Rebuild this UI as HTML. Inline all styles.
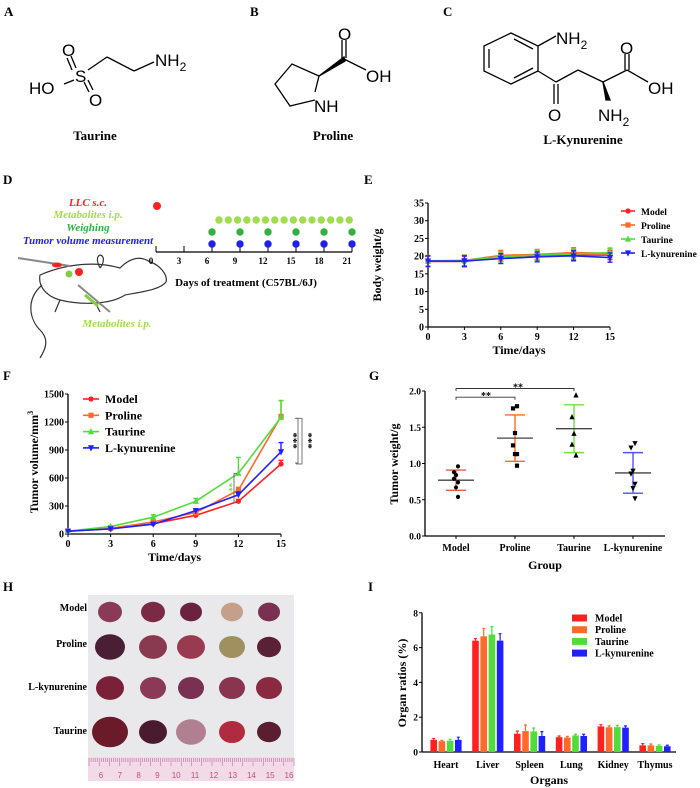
<!DOCTYPE html>
<html><head><meta charset="utf-8">
<style>
html,body{margin:0;padding:0;background:#fff;}
svg{display:block;font-family:"Liberation Serif",serif;}
.b{font-weight:bold;}
.sans{font-family:"Liberation Sans",sans-serif;}
</style></head>
<body>
<svg id="fig" width="700" height="788" viewBox="0 0 700 788">
<!-- Panel labels -->
<g class="b" font-size="13">
<text x="4" y="16">A</text>
<text x="250" y="16">B</text>
<text x="443" y="16">C</text>
<text x="3" y="184">D</text>
<text x="364" y="184">E</text>
<text x="3" y="380">F</text>
<text x="369" y="380">G</text>
<text x="3" y="591">H</text>
<text x="368" y="591">I</text>
</g>

<!-- A Taurine -->
<g stroke="#000" stroke-width="1.3" fill="none">
<line x1="71" y1="56" x2="76" y2="68"/><line x1="67" y1="58" x2="72" y2="70"/>
<line x1="84" y1="82" x2="89" y2="92"/><line x1="88" y1="80" x2="93" y2="90"/>
<line x1="64" y1="84" x2="74" y2="80"/>
<line x1="88" y1="70" x2="107" y2="57"/><line x1="107" y1="57" x2="134" y2="71"/><line x1="134" y1="71" x2="154" y2="62"/>
</g>
<g class="sans" font-size="17">
<text x="62" y="56">O</text><text x="75" y="82">S</text><text x="29" y="94">HO</text><text x="89" y="106">O</text>
<text x="155" y="66">NH<tspan font-size="12" dy="5">2</tspan></text>
</g>
<text x="95" y="140" class="b" font-size="13" text-anchor="middle">Taurine</text>

<!-- B Proline -->
<g stroke="#000" stroke-width="1.3" fill="none">
<polyline points="315,100 290,106 275,84 292,64 319,76 315,92"/>
<polygon points="319,76 344,57 345,61" fill="#000"/>
<line x1="344" y1="59" x2="366" y2="70"/>
<line x1="342" y1="58" x2="342" y2="40"/><line x1="346" y1="58" x2="346" y2="40"/>
</g>
<g class="sans" font-size="17">
<text x="338" y="40">O</text><text x="366" y="82">OH</text><text x="314" y="112">NH</text>
</g>
<text x="333" y="140" class="b" font-size="13" text-anchor="middle">Proline</text>

<!-- C Kynurenine -->
<g stroke="#000" stroke-width="1.3" fill="none">
<polygon points="511,33 538,46 538,71 511,84 484,71 484,46"/>
<line x1="514" y1="39" x2="533" y2="49"/><line x1="533" y1="68" x2="514" y2="78"/><line x1="489" y1="49" x2="489" y2="68"/>
<line x1="538" y1="46" x2="556" y2="36"/>
<line x1="538" y1="71" x2="556" y2="82"/><line x1="556" y1="82" x2="578" y2="70"/><line x1="578" y1="70" x2="603" y2="82"/>
<line x1="554" y1="84" x2="554" y2="104"/><line x1="558" y1="84" x2="558" y2="104"/>
<polygon points="603,82 606,100 610,100" fill="#000"/>
<line x1="603" y1="82" x2="627" y2="70"/><line x1="627" y1="70" x2="648" y2="82"/>
<line x1="625" y1="70" x2="625" y2="54"/><line x1="629" y1="70" x2="629" y2="54"/>
</g>
<g class="sans" font-size="17">
<text x="556" y="44">NH<tspan font-size="12" dy="5">2</tspan></text>
<text x="620" y="54">O</text><text x="648" y="94">OH</text><text x="548" y="121">O</text>
<text x="598" y="121">NH<tspan font-size="12" dy="5">2</tspan></text>
</g>
<text x="583" y="144" class="b" font-size="13" text-anchor="middle">L-Kynurenine</text>

<!-- D schedule -->
<g font-style="italic" class="b" font-size="11" text-anchor="middle">
<text x="88" y="206" fill="#ff2020">LLC s.c.</text>
<text x="88" y="218" fill="#a0dc50">Metabolites i.p.</text>
<text x="88" y="231" fill="#30b040">Weighing</text>
<text x="88" y="244" fill="#2020ee">Tumor volume measurement</text>
<text x="117" y="327" fill="#a0dc50">Metabolites i.p.</text>
</g>
<g fill="none" stroke="#333" stroke-width="1.2">
<path d="M40,275 C70,262 100,262 120,268 C130,258 140,255 150,262 C160,265 168,275 166,282 C160,290 140,292 125,295 C110,305 80,305 60,300 C45,296 38,285 40,275 Z"/>
<path d="M42,285 C25,300 30,320 40,330 C50,340 45,350 40,358"/>
<path d="M100,268 C97,262 96,257 100,255 C105,256 104,263 100,268"/>
<line x1="18" y1="258" x2="70" y2="266" stroke="#888" stroke-width="2"/>
<line x1="78" y1="285" x2="110" y2="312" stroke="#888" stroke-width="2"/>
<line x1="60" y1="300" x2="55" y2="312"/><line x1="95" y1="302" x2="100" y2="312"/>
</g>
<ellipse cx="57" cy="265" rx="5" ry="2.5" fill="#ff2020"/>
<circle cx="79" cy="272" r="4" fill="#ff2020"/>
<circle cx="69" cy="274" r="3.5" fill="#80d040"/>
<line x1="85" y1="295" x2="98" y2="306" stroke="#80d040" stroke-width="3"/>
<g id="sched"></g>

<!-- H photo -->
<g>
<rect x="88" y="595" width="206" height="186" fill="#e9e9ec"/>
<rect x="88" y="757" width="206" height="24" fill="#f2dbe6"/>
<g id="ruler"></g>
<g id="tumors"></g>
</g>
<g class="b" font-size="10" text-anchor="end">
<text x="87" y="611">Model</text><text x="87" y="647">Proline</text><text x="87" y="690">L-kynurenine</text><text x="87" y="734">Taurine</text>
</g>

<g id="chartE"></g>
<g id="chartF"></g>
<g id="chartG"></g>
<g id="chartI"></g>
</svg>
<script>
// ---------- data ----------
const seriesNames = ["Model","Proline","Taurine","L-kynurenine"];
const seriesColors = ["#ff2020","#ff6a2a","#50dd3a","#2020ff"];
const days = [0,3,6,9,12,15];
const eTicks = [0,5,10,15,20,25,30,35];
const eModel = [18.5,18.5,19.8,20.2,20.3,20.3];
const eProline = [18.5,18.8,20.2,20.5,21.0,20.8];
const eTaurine = [18.7,18.8,19.8,20.3,20.6,21.0];
const eKyn = [18.6,18.6,19.3,19.8,20.1,19.6];
const eErr = [1.5,1.5,1.4,1.4,1.4,1.3];
const fTicks = [0,300,600,900,1200,1500];
const fModel = [30,55,110,200,350,750];
const fProline = [30,60,130,230,470,1260];
const fTaurine = [30,80,180,350,650,1250];
const fKyn = [30,55,105,250,420,880];
const fErrModel = [5,8,10,15,20,40];
const fErrProline = [5,8,15,20,30,170];
const fErrTaurine = [5,10,25,30,170,180];
const fErrKyn = [5,8,12,20,30,100];
const gTicks = [0.0,0.5,1.0,1.5,2.0];
const gGroups = ["Model","Proline","Taurine","L-kynurenine"];
const gMeans = [0.77,1.35,1.48,0.87];
const gSD = [0.14,0.32,0.33,0.28];
const gPtsModel = [0.96,0.88,0.84,0.79,0.74,0.67,0.54];
const gPtsProline = [1.79,1.76,1.42,1.25,1.13,1.13,0.97];
const gPtsTaurine = [1.94,1.64,1.41,1.26,1.11];
const gPtsKyn = [1.28,1.22,0.90,0.86,0.72,0.66,0.52];
const iOrgans = ["Heart","Liver","Spleen","Lung","Kidney","Thymus"];
const iTicks = [0,2,4,6,8];
const iModel = [0.70,6.40,1.05,0.85,1.47,0.38];
const iProline = [0.62,6.65,1.20,0.83,1.42,0.38];
const iTaurine = [0.65,6.75,1.18,0.95,1.43,0.35];
const iKyn = [0.70,6.40,0.92,0.92,1.40,0.33];
const iErrModel = [0.08,0.12,0.15,0.07,0.10,0.10];
const iErrProline = [0.05,0.45,0.35,0.07,0.08,0.08];
const iErrTaurine = [0.08,0.45,0.20,0.07,0.10,0.06];
const iErrKyn = [0.15,0.40,0.25,0.10,0.10,0.06];
const schedDays = [0,3,6,9,12,15,18,21];
const weighDays = [6,9,12,15,18,21];

const NS = "http://www.w3.org/2000/svg";
function mk(parent, tag, attrs, txt){
  const e = document.createElementNS(NS, tag);
  for (const k in attrs) e.setAttribute(k, attrs[k]);
  if (txt !== undefined) e.textContent = txt;
  parent.appendChild(e);
  return e;
}
function marker(g, kind, x, y, col, s){
  let e;
  if (kind===0) e = mk(g,"circle",{cx:x,cy:y,r:s,fill:col});
  else if (kind===1) e = mk(g,"rect",{x:x-s,y:y-s,width:2*s,height:2*s,fill:col});
  else if (kind===2) e = mk(g,"polygon",{points:`${x},${y-s-1} ${x-s-0.5},${y+s} ${x+s+0.5},${y+s}`,fill:col});
  else e = mk(g,"polygon",{points:`${x},${y+s+1} ${x-s-0.5},${y-s} ${x+s+0.5},${y-s}`,fill:col});
  return e;
}
const BOLD = {"font-weight":"bold","font-family":"Liberation Serif, serif"};

// ---------- D schedule ----------
(function(){
  const g = document.getElementById("sched");
  const xs = d => 156 + d*(196/21);
  const ax = mk(g,"line",{x1:xs(0),y1:252,x2:xs(21),y2:252,stroke:"#000","stroke-width":1.2});
  
  
  schedDays.forEach(d=>{
    const t = mk(g,"line",{x1:xs(d),y1:246,x2:xs(d),y2:252,stroke:"#000"});
    
    
    const tx = mk(g,"text",Object.assign({x:xs(d)-5,y:264,"font-size":9,"text-anchor":"middle"},BOLD),String(d));
    
    
  });
  const tt = mk(g,"text",Object.assign({x:246,y:286,"font-size":11,"text-anchor":"middle"},BOLD),"Days of treatment (C57BL/6J)");
  
  
  const rd = mk(g,"circle",{cx:157,cy:206,r:4,fill:"#ff2020"});
  
  
  for (let i=0;i<15;i++){
    const c = mk(g,"circle",{cx:219+i*9.3,cy:220,r:3.7,fill:"#a0dc50"});
    
    
  }
  weighDays.forEach(d=>{
    const c1 = mk(g,"circle",{cx:xs(d),cy:232,r:3.7,fill:"#30b040"});
    
    
    const c2 = mk(g,"circle",{cx:xs(d),cy:244,r:3.7,fill:"#2020ee"});
    
    
  });
})();

// ---------- H photo ----------
(function(){
  const r = document.getElementById("ruler");
  for (let i=0;i<=100;i++){
    const x = 89 + i*2.05;
    const l = mk(r,"line",{x1:x,y1:758,x2:x,y2:i%5===0?766:762,stroke:"#c06a9a","stroke-width":0.6});
    
    
  }
  for (let n=6;n<=16;n++){
    const t = mk(r,"text",{x:101+(n-6)*18.8,y:778,"font-size":8,fill:"#c0507a","text-anchor":"middle","font-family":"Liberation Sans, sans-serif"},String(n));
    
    
  }
  const tg = document.getElementById("tumors");
  const cols = [110,153,191,232,269];
  const rows = [612,647,688,732];
  const sizes = [[12,12,11,11,11],[15,14,14,13,12],[14,13,13,13,13],[18,14,15,13,12]];
  const fills = [["#8a3a55","#7a2a45","#6a2240","#c4a08a","#7a3050"],
                 ["#4a1e35","#8a3a50","#9a3a50","#a09060","#5a2035"],
                 ["#7a2038","#8a3a55","#7a3050","#8a3550","#8a2a40"],
                 ["#6a1a28","#4a1a2e","#b08090","#b02a40","#5a1e30"]];
  rows.forEach((y,ri)=>cols.forEach((x,ci)=>{
    const s = sizes[ri][ci];
    const e = mk(tg,"ellipse",{cx:x,cy:y,rx:s,ry:s*0.85,fill:fills[ri][ci]});
    
    
  }));
})();

// ---------- line chart helper ----------
function lineChart(gid, cfg){
  const g = document.getElementById(gid);
  const xS = cfg.xS, yS = cfg.yS;
  const a1 = mk(g,"line",{x1:cfg.x0,y1:yS(cfg.ticks[cfg.ticks.length-1]),x2:cfg.x0,y2:cfg.y0,stroke:"#000","stroke-width":1.3});
  
  
  const a2 = mk(g,"line",{x1:cfg.x0,y1:cfg.y0,x2:xS(days[days.length-1]),y2:cfg.y0,stroke:"#000","stroke-width":1.3});
  
  
  cfg.ticks.forEach(v=>{
    const t = mk(g,"line",{x1:cfg.x0-3,y1:yS(v),x2:cfg.x0,y2:yS(v),stroke:"#000"});
    
    
    const l = mk(g,"text",Object.assign({x:cfg.x0-4,y:yS(v)+3.5,"font-size":10,"text-anchor":"end"},BOLD),String(v));
    
    
  });
  days.forEach(d=>{
    const t = mk(g,"line",{x1:xS(d),y1:cfg.y0,x2:xS(d),y2:cfg.y0+3,stroke:"#000"});
    
    
    const l = mk(g,"text",Object.assign({x:xS(d),y:cfg.y0+13,"font-size":10,"text-anchor":"middle"},BOLD),String(d));
    
    
  });
  const xt = mk(g,"text",Object.assign({x:(cfg.x0+xS(15))/2,y:cfg.y0+27,"font-size":12,"text-anchor":"middle"},BOLD),"Time/days");
  
  
  const yt = mk(g,"text",Object.assign({x:0,y:0,"font-size":12,"text-anchor":"middle",transform:`translate(${cfg.ytx},${cfg.yty}) rotate(-90)`},BOLD));
  yt.innerHTML = cfg.ytitle;
  
  
  cfg.series.forEach((vals,si)=>{
    const col = seriesColors[si];
    const errs = cfg.errs[si];
    const pl = mk(g,"polyline",{points:vals.map((v,i)=>`${xS(days[i])},${yS(v)}`).join(" "),fill:"none",stroke:col,"stroke-width":1.6});
    
    
    vals.forEach((v,i)=>{
      const x = xS(days[i]);
      const up = cfg.errUpOnly;
      const eb = mk(g,"path",{d:`M${x},${yS(v+errs[i])}V${up?yS(v):yS(v-errs[i])}M${x-2.5},${yS(v+errs[i])}h5`+(up?"":`M${x-2.5},${yS(v-errs[i])}h5`),stroke:col,"stroke-width":1.4,fill:"none"});
      
      
      const m = marker(g,si,x,yS(v),col,2.6);
      
      
    });
  });
  seriesNames.forEach((n,si)=>{
    const y = cfg.legY + si*cfg.legDy;
    const l = mk(g,"line",{x1:cfg.legX,y1:y,x2:cfg.legX+cfg.legW,y2:y,stroke:seriesColors[si],"stroke-width":1.6});
    
    
    const m = marker(g,si,cfg.legX+cfg.legW/2,y,seriesColors[si],2.6);
    
    
    const t = mk(g,"text",Object.assign({x:cfg.legX+cfg.legW+6,y:y+4,"font-size":cfg.legFs},BOLD),n);
    
    
  });
}

lineChart("chartE",{
  x0:428,y0:327,xS:d=>428+d*(182/15),yS:v=>327-v*(124/35),ticks:eTicks,
  series:[eModel,eProline,eTaurine,eKyn],errs:[eErr,eErr,eErr,eErr],
  ytitle:"Body weight/g",ytx:381,yty:265,
  legX:621,legY:211,legDy:14,legW:14,legFs:9.5,errUpOnly:false
});
lineChart("chartF",{
  x0:68,y0:534,xS:d=>68+d*(213/15),yS:v=>534-v*(140/1500),ticks:fTicks,
  series:[fModel,fProline,fTaurine,fKyn],errs:[fErrModel,fErrProline,fErrTaurine,fErrKyn],
  ytitle:'Tumor volume/mm<tspan font-size="8" dy="-5">3</tspan>',ytx:38,yty:462,
  legX:83,legY:399,legDy:16.3,legW:16,legFs:12,errUpOnly:true
});
(function(){
  const g = document.getElementById("chartF");
  const yS = v=>534-v*(140/1500);
  const b1 = mk(g,"path",{d:`M295,${yS(1240)}h3V${yS(760)}h-3`,stroke:"#555",fill:"none","stroke-width":0.8});
  
  
  const b2 = mk(g,"path",{d:`M296,${yS(1240)}h6V${yS(750)}h-6`,stroke:"#555",fill:"none","stroke-width":0.8});
  
  
  const s1 = mk(g,"text",Object.assign({"font-size":11,"text-anchor":"middle",transform:`translate(290,${yS(1000)}) rotate(90)`},BOLD),"***");
  
  
  const s2 = mk(g,"text",Object.assign({"font-size":11,"text-anchor":"middle",transform:`translate(305,${yS(1000)}) rotate(90)`},BOLD),"***");
  
  
  const b3 = mk(g,"path",{d:`M237,${yS(650)}h-3V${yS(340)}h3`,stroke:"#555",fill:"none","stroke-width":0.8});
  
  
  const s3 = mk(g,"text",Object.assign({"font-size":9,fill:"#70e040","text-anchor":"middle",transform:`translate(226,${yS(500)}) rotate(90)`},BOLD),"**");
  
  
})();

// ---------- G scatter ----------
(function(){
  const g = document.getElementById("chartG");
  const xS = i=>456+i*59, yS = v=>536-v*72.5;
  const barCols = ["#ff5050","#ff6a20","#70e040","#5050ff"];
  const pts = [gPtsModel,gPtsProline,gPtsTaurine,gPtsKyn];
  const a1 = mk(g,"line",{x1:425,y1:yS(2),x2:425,y2:536,stroke:"#000","stroke-width":1.3});
  
  
  const a2 = mk(g,"line",{x1:425,y1:536,x2:665,y2:536,stroke:"#000","stroke-width":1.3});
  
  
  gTicks.forEach(v=>{
    const t = mk(g,"line",{x1:422,y1:yS(v),x2:425,y2:yS(v),stroke:"#000"});
    
    
    const l = mk(g,"text",Object.assign({x:421,y:yS(v)+3.5,"font-size":9.5,"text-anchor":"end"},BOLD),v.toFixed(1));
    
    
  });
  gGroups.forEach((n,i)=>{
    const x = xS(i);
    const t = mk(g,"line",{x1:x,y1:536,x2:x,y2:539,stroke:"#000"});
    
    
    const l = mk(g,"text",Object.assign({x:x,y:551,"font-size":10,"text-anchor":"middle"},BOLD),n);
    
    
    const sd = mk(g,"path",{d:`M${x-10},${yS(gMeans[i]+gSD[i])}h20M${x},${yS(gMeans[i]+gSD[i])}V${yS(gMeans[i]-gSD[i])}M${x-10},${yS(gMeans[i]-gSD[i])}h20`,stroke:barCols[i],"stroke-width":1.4,fill:"none"});
    
    
    const mn = mk(g,"line",{x1:x-18,y1:yS(gMeans[i]),x2:x+18,y2:yS(gMeans[i]),stroke:"#444","stroke-width":1.3});
    
    
    pts[i].forEach((v,k)=>{
      const off = (k%2===0?2:-2)*(k%3===2?0:1);
      const m = marker(g,i,x+off,yS(v),"#000",2.1);
      
      
    });
  });
  const xt = mk(g,"text",Object.assign({x:545,y:569,"font-size":12,"text-anchor":"middle"},BOLD),"Group");
  
  
  const yt = mk(g,"text",Object.assign({"font-size":12,"text-anchor":"middle",transform:"translate(398,464) rotate(-90)"},BOLD),"Tumor weight/g");
  
  
  const s1 = mk(g,"path",{d:`M${xS(0)},${yS(1.88)}v-2.5H${xS(1)}v2.5`,stroke:"#333",fill:"none","stroke-width":0.9});
  
  
  const s2 = mk(g,"path",{d:`M${xS(0)},${yS(2.0)}v-2.5H${xS(2)}v2.5`,stroke:"#333",fill:"none","stroke-width":0.9});
  
  
  const l1 = mk(g,"text",Object.assign({x:486,y:yS(1.93)+3,"font-size":10,"text-anchor":"middle"},BOLD),"**");
  
  
  const l2 = mk(g,"text",Object.assign({x:518,y:yS(2.05)+3,"font-size":10,"text-anchor":"middle"},BOLD),"**");
  
  
})();

// ---------- I bars ----------
(function(){
  const g = document.getElementById("chartI");
  const yS = v=>752-v*17.4;
  const xS = (o,s)=>446+o*41.8+(s-1.5)*8.2;
  const vals = [iModel,iProline,iTaurine,iKyn];
  const errs = [iErrModel,iErrProline,iErrTaurine,iErrKyn];
  const a1 = mk(g,"line",{x1:422,y1:yS(8),x2:422,y2:752,stroke:"#000","stroke-width":1.3});
  
  
  const a2 = mk(g,"line",{x1:422,y1:752,x2:676,y2:752,stroke:"#000","stroke-width":1.3});
  
  
  iTicks.forEach(v=>{
    const t = mk(g,"line",{x1:419,y1:yS(v),x2:422,y2:yS(v),stroke:"#000"});
    
    
    const l = mk(g,"text",Object.assign({x:418,y:yS(v)+3.5,"font-size":9.5,"text-anchor":"end"},BOLD),String(v));
    
    
  });
  iOrgans.forEach((n,o)=>{
    const l = mk(g,"text",Object.assign({x:xS(o,1.5),y:768,"font-size":10,"text-anchor":"middle"},BOLD),n);
    
    
    vals.forEach((arr,s)=>{
      const x = xS(o,s), v = arr[o], e = errs[s][o];
      const eb = mk(g,"path",{d:`M${x},${yS(v)}V${yS(v+e)}M${x-1.5},${yS(v+e)}h3`,stroke:seriesColors[s],"stroke-width":1.2,fill:"none"});
      
      
      const b = mk(g,"rect",{x:x-3.3,y:yS(v),width:6.6,height:752-yS(v),fill:seriesColors[s]});
      
      
    });
  });
  seriesNames.forEach((n,s)=>{
    const y = 618 + s*11.7;
    const r = mk(g,"rect",{x:572,y:y-3.5,width:15,height:7,fill:seriesColors[s]});
    
    
    const t = mk(g,"text",Object.assign({x:595,y:y+3.5,"font-size":10},BOLD),n);
    
    
  });
  const xt = mk(g,"text",Object.assign({x:549,y:784,"font-size":12,"text-anchor":"middle"},BOLD),"Organs");
  
  
  const yt = mk(g,"text",Object.assign({"font-size":12,"text-anchor":"middle",transform:"translate(406,683) rotate(-90)"},BOLD),"Organ ratios (%)");
  
  
})();
</script>
</body></html>
